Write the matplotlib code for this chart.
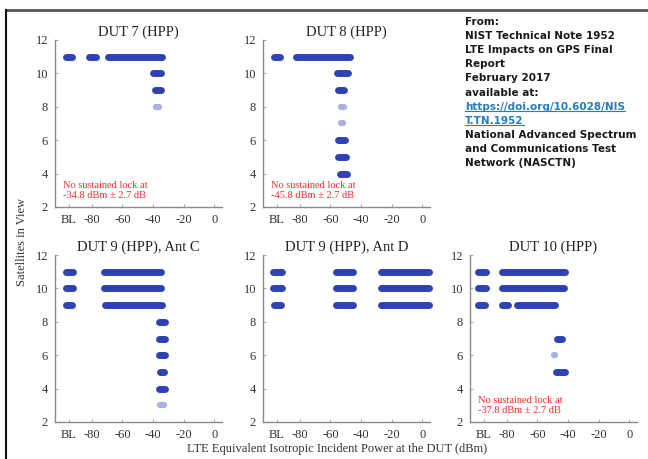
import matplotlib
matplotlib.use("Agg")
import matplotlib.pyplot as plt
from matplotlib.lines import Line2D

# x positions of the ticks, BL = baseline (no LTE)
tick_pos = [-95, -80, -60, -40, -20, 0]
tick_lab = ["BL", "-80", "-60", "-40", "-20", "0"]
y_ticks = [2, 4, 6, 8, 10, 12]

# bands of observations: (satellites, power start, power end)
dut7_bands = [(11, -97, -93), (11, -82, -77), (11, -69.5, -34),
              (10, -40, -35), (9, -39, -35)]
dut7_faint = [(8, -38, -36)]

dut8_bands = [(11, -97, -93), (11, -82.5, -47.5), (10, -55.5, -48.5),
              (9, -55, -51), (6, -55, -50.5), (5, -55, -50), (4, -53.5, -49.5)]
dut8_faint = [(8, -53, -51), (7, -53, -51.5)]

dut9c_bands = [(11, -97, -92.5), (11, -72, -34.5),
               (10, -97, -92.5), (10, -72, -34.5),
               (9, -96.5, -93), (9, -71.5, -67), (9, -66, -34),
               (8, -36, -32.5), (7, -36, -32.5), (6, -36, -32.5),
               (5, -35.5, -33), (4, -36, -32.5)]
dut9c_faint = [(3, -35.5, -33)]

dut9d_bands = [(11, -97.5, -91.5), (11, -56.5, -45), (11, -27, 4.5),
               (10, -97.5, -91.5), (10, -56.5, -45), (10, -27, 4.5),
               (9, -97, -92), (9, -56.5, -45.5), (9, -27, 4.5)]
dut9d_faint = []

dut10_bands = [(11, -98.5, -93.5), (11, -83, -42),
               (10, -98.5, -93.5), (10, -83, -42.5),
               (9, -98.5, -94), (9, -83, -79), (9, -73.5, -48.5),
               (7, -47, -44), (5, -48, -42)]
dut10_faint = [(6, -49.5, -48.5)]

titles = ["DUT 7 (HPP)", "DUT 8 (HPP)", "DUT 9 (HPP), Ant C",
          "DUT 9 (HPP), Ant D", "DUT 10 (HPP)"]
notes = ["No sustained lock at\n-34.8 dBm \u00b1 2.7 dB",
         "No sustained lock at\n-45.8 dBm \u00b1 2.7 dB",
         None, None,
         "No sustained lock at\n-37.8 dBm \u00b1 2.7 dB"]

source_lines = ["From:", "NIST Technical Note 1952", "LTE Impacts on GPS Final",
                "Report", "February 2017", "available at:",
                "https://doi.org/10.6028/NIS", "T.TN.1952",
                "National Advanced Spectrum", "and Communications Test",
                "Network (NASCTN)"]

blue = "#2f42b4"
faint = "#aab1e2"
red = "#ff2a2a"
serif = "Liberation Serif"

W, H = 648, 459
fig = plt.figure(figsize=(W / 100, H / 100), dpi=100)


def px_axes(left, top, width, height):
    return fig.add_axes([left / W, (H - top - height) / H, width / W, height / H])


axes_px = [(55, 40), (263, 40), (55, 255), (263, 255), (470, 255)]
data = [(dut7_bands, dut7_faint), (dut8_bands, dut8_faint),
        (dut9c_bands, dut9c_faint), (dut9d_bands, dut9d_faint),
        (dut10_bands, dut10_faint)]

for i, ((l, t), (bands, fpts)) in enumerate(zip(axes_px, data)):
    ax = px_axes(l, t, 167, 167)
    for y, x0, x1 in bands:
        ax.plot([x0, x1], [y, y], color=blue, lw=5, solid_capstyle="round",
                clip_on=False)
    for y, x0, x1 in fpts:
        ax.plot([x0, x1], [y, y], color=faint, lw=4.5, solid_capstyle="round")
    ax.set_xlim(-104, 5)
    ax.set_ylim(2, 12)
    ax.set_xticks(tick_pos)
    ax.set_xticklabels(tick_lab)
    ax.set_yticks(y_ticks)
    for s in ["top", "right"]:
        ax.spines[s].set_visible(False)
    for s in ["left", "bottom"]:
        ax.spines[s].set_color("#8a8a8a")
        ax.spines[s].set_linewidth(1.0)
    ax.tick_params(direction="in", length=2.5, color="#b0b0b0",
                   labelsize=9, labelcolor="#333333", pad=5)
    for lab in ax.get_xticklabels() + ax.get_yticklabels():
        lab.set_family(serif)
    ax.set_title(titles[i], family=serif, fontsize=10.5, pad=3, color="#222222")
    if notes[i]:
        ax.text(0.05, 0.1, notes[i], transform=ax.transAxes, color=red,
                family=serif, fontsize=7.5, va="center", ha="left", linespacing=1.15)

fig.text(22 / W, 1 - 242 / H, "Satellites in View", rotation=90, family=serif,
         fontsize=9, ha="center", va="center", color="#333333")
fig.text(337 / W, 1 - 449 / H, "LTE Equivalent Isotropic Incident Power at the DUT (dBm)",
         family=serif, fontsize=9, ha="center", va="center", color="#333333")

# source note, top right
link_texts = []
for k, line in enumerate(source_lines):
    y = 1 - (22 + k * 14.1) / H
    is_link = k in (6, 7)
    tx = fig.text(465 / W, y, line, family="DejaVu Sans", fontweight="bold",
                  fontsize=7.5, ha="left", va="center",
                  color="#1f7fc4" if is_link else "#1a1a1a")
    if is_link:
        link_texts.append(tx)

fig.canvas.draw()
r = fig.canvas.get_renderer()
for tx in link_texts:
    bb = tx.get_window_extent(r)
    fig.add_artist(Line2D([bb.x0 / W, bb.x1 / W], [(bb.y0 + 0.5) / H] * 2,
                          color="#1f7fc4", lw=0.8))

# page frame
fig.add_artist(Line2D([6 / W, 1], [1 - 10 / H] * 2, color="#555555", lw=2))
fig.add_artist(Line2D([6 / W, 6 / W], [0, 1 - 10 / H], color="#111111", lw=1.5))

fig.savefig("out.png", dpi=100)
